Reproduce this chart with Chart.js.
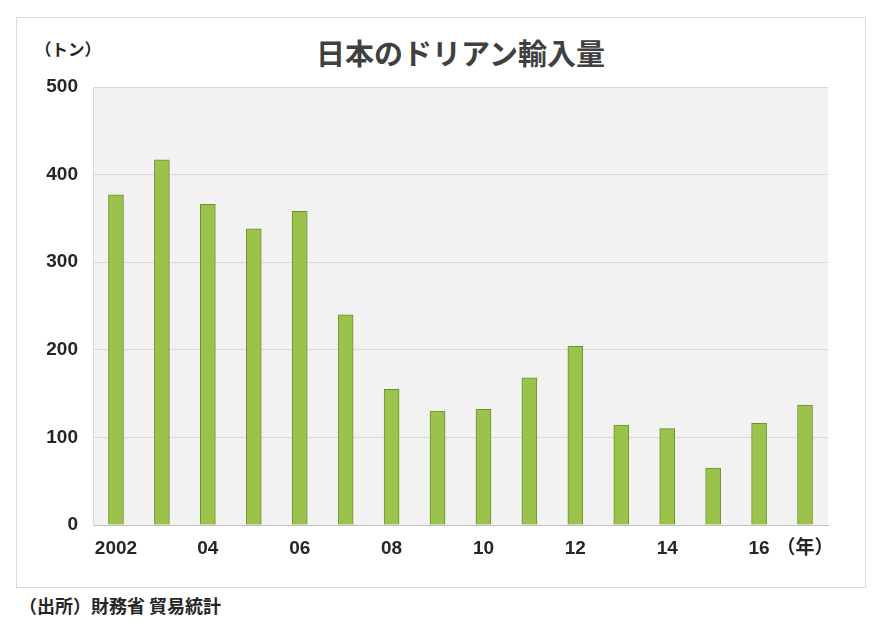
<!DOCTYPE html>
<html lang="ja">
<head>
<meta charset="UTF-8">
<title>日本のドリアン輸入量</title>
<style>
  body { margin: 0; background: #fff; width: 880px; height: 624px; position: relative; overflow: hidden;
         font-family: "Noto Sans CJK JP", "Liberation Sans", sans-serif; }
  .frame { position: absolute; left: 16px; top: 17px; width: 848px; height: 569px; border: 1px solid #d9d9d9; }
  .title { position: absolute; left: 260px; width: 401px; top: 33px; text-align: center;
           font-size: 29px; font-weight: bold; color: #404040; line-height: 38px; }
  .unit { position: absolute; left: 35px; top: 37px; font-size: 16.5px; font-weight: bold; color: #262626; }
  .source { position: absolute; left: 19px; top: 592px; font-size: 18px; font-weight: bold; color: #262626; }
  #wrap { position: absolute; left: 0; top: 0; width: 880px; height: 624px; }
</style>
</head>
<body>
<div class="frame"></div>
<div class="title">日本のドリアン輸入量</div>
<div class="unit">（トン）</div>
<div class="source">（出所）財務省 貿易統計</div>
<div id="wrap"><canvas id="chart"></canvas></div>

<script src="https://cdn.jsdelivr.net/npm/chart.js"></script>
<script>
  // years 2002-2017, durian imports in tonnes
  var years = ['2002', '2003', '2004', '2005', '2006', '2007', '2008', '2009',
               '2010', '2011', '2012', '2013', '2014', '2015', '2016', '2017'];
  var imports = [377, 417, 366, 338, 358, 240, 155, 130, 132, 168, 204, 114, 110, 65, 116, 137];
  var tickLabels = ['2002', '', '04', '', '06', '', '08', '', '10', '', '12', '', '14', '', '16', '（年）'];

  // grey plot background
  var plotBg = {
    id: 'plotBg',
    beforeDraw: function (chart) {
      var a = chart.chartArea, ctx = chart.ctx;
      ctx.save();
      ctx.fillStyle = '#f2f2f2';
      ctx.fillRect(a.left, a.top, a.right - a.left, a.bottom - a.top);
      ctx.restore();
    }
  };

  var tickFont = { family: '"Liberation Sans", "Noto Sans CJK JP", sans-serif', size: 19, weight: 'bold' };

  new Chart(document.getElementById('chart').getContext('2d'), {
    type: 'bar',
    data: {
      labels: years,
      datasets: [{
        data: imports,
        backgroundColor: '#9bc34c',
        borderColor: '#6f922c',
        borderWidth: 1,
        barThickness: 15
      }]
    },
    options: {
      responsive: true,
      maintainAspectRatio: false,
      animation: false,
      layout: { padding: { left: 0, right: 52, top: 87, bottom: 59 } },
      plugins: { legend: { display: false }, tooltip: { enabled: false } },
      scales: {
        x: {
          grid: { display: false, drawTicks: false },
          border: { display: true, color: '#bfbfbf', width: 1 },
          ticks: {
            autoSkip: false, maxRotation: 0, padding: 12,
            color: '#262626', font: tickFont,
            callback: function (v, i) { return tickLabels[i]; }
          },
          afterFit: function (s) { s.height = 40; }
        },
        y: {
          min: 0, max: 500,
          grid: { color: '#d9d9d9', drawTicks: false },
          border: { display: true, color: '#d9d9d9' },
          ticks: { stepSize: 100, padding: 15, color: '#262626', font: tickFont },
          afterFit: function (s) { s.width = 93; }
        }
      }
    },
    plugins: [plotBg]
  });
</script>
</body>
</html>
